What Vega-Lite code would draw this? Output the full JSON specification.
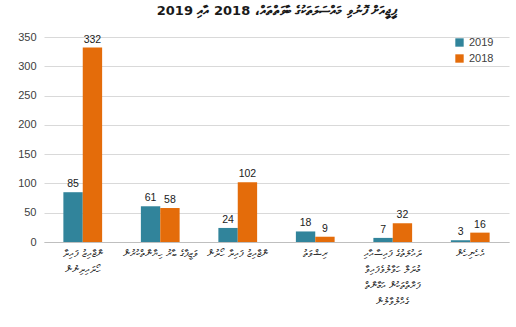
{
  "$schema": "https://vega.github.io/schema/vega-lite/v6.json",
  "width": 465,
  "height": 205,
  "autosize": {"type": "pad"},
  "padding": {"left": 17, "right": 6, "top": 5, "bottom": 4},
  "background": "white",
  "title": {
    "text": "ޕީޖީއަށް ފޮނުވި މައްސަލަތަކުގެ ބާވަތްތައް، 2018 އާއި 2019",
    "fontSize": 13,
    "fontWeight": "bold",
    "font": "DejaVu Sans",
    "color": "#1a1a1a",
    "anchor": "middle",
    "offset": 13
  },
  "data": {
    "values": [
      {"cat": "ނާޖާއިޒު ފައިދާ|ހޯދައިދިނުން", "year": "2019", "value": 85},
      {"cat": "ނާޖާއިޒު ފައިދާ|ހޯދައިދިނުން", "year": "2018", "value": 332},
      {"cat": "ވަޒީފާގެ ބާރު ހިޔާނާތްކުރުން", "year": "2019", "value": 61},
      {"cat": "ވަޒީފާގެ ބާރު ހިޔާނާތްކުރުން", "year": "2018", "value": 58},
      {"cat": "ނާޖާއިޒު ފައިދާ ހޯދުން", "year": "2019", "value": 24},
      {"cat": "ނާޖާއިޒު ފައިދާ ހޯދުން", "year": "2018", "value": 102},
      {"cat": "ރިޝްވަތު", "year": "2019", "value": 18},
      {"cat": "ރިޝްވަތު", "year": "2018", "value": 9},
      {"cat": "ދައުލަތުގެ ފައިސާއާއި|މުދަލާ ހަވާލުވެފައިވާ|ފަރާތްތަކުން އަމާނާތް|ގެއްލުވާލުން", "year": "2019", "value": 7},
      {"cat": "ދައުލަތުގެ ފައިސާއާއި|މުދަލާ ހަވާލުވެފައިވާ|ފަރާތްތަކުން އަމާނާތް|ގެއްލުވާލުން", "year": "2018", "value": 32},
      {"cat": "އެހެނިހެން", "year": "2019", "value": 3},
      {"cat": "އެހެނިހެން", "year": "2018", "value": 16}
    ]
  },
  "encoding": {
    "x": {
      "field": "cat",
      "type": "nominal",
      "sort": [
        "ނާޖާއިޒު ފައިދާ|ހޯދައިދިނުން",
        "ވަޒީފާގެ ބާރު ހިޔާނާތްކުރުން",
        "ނާޖާއިޒު ފައިދާ ހޯދުން",
        "ރިޝްވަތު",
        "ދައުލަތުގެ ފައިސާއާއި|މުދަލާ ހަވާލުވެފައިވާ|ފަރާތްތަކުން އަމާނާތް|ގެއްލުވާލުން",
        "އެހެނިހެން"
      ],
      "scale": {"paddingInner": 0.5, "paddingOuter": 0.25},
      "axis": {
        "title": null,
        "labelAngle": 0,
        "labelExpr": "split(datum.label, '|')",
        "labelFontSize": 10,
        "labelFont": "DejaVu Sans",
        "labelColor": "#333",
        "labelLimit": 0,
        "labelPadding": 6,
        "ticks": false,
        "domainColor": "#bfbfbf",
        "labelLineHeight": 16
      }
    },
    "xOffset": {"field": "year", "type": "nominal", "sort": ["2019", "2018"]},
    "y": {
      "field": "value",
      "type": "quantitative",
      "scale": {"domain": [0, 350]},
      "axis": {
        "title": null,
        "values": [0, 50, 100, 150, 200, 250, 300, 350],
        "domain": false,
        "ticks": false,
        "gridColor": "#d9d9d9",
        "labelFontSize": 11,
        "labelFont": "Liberation Sans",
        "labelColor": "#404040",
        "labelPadding": 8
      }
    }
  },
  "layer": [
    {
      "mark": {"type": "bar"},
      "encoding": {
        "color": {
          "field": "year",
          "type": "nominal",
          "sort": ["2019", "2018"],
          "scale": {"domain": ["2019", "2018"], "range": ["#31849B", "#E46C0A"]},
          "legend": {
            "title": null,
            "orient": "none",
            "legendX": 410,
            "legendY": 0,
            "symbolType": "square",
            "symbolSize": 70,
            "labelFontSize": 11,
            "labelFont": "Liberation Sans",
            "labelColor": "#404040",
            "rowPadding": 4
          }
        }
      }
    },
    {
      "mark": {"type": "text", "dy": -8, "fontSize": 10.5, "font": "Liberation Sans", "color": "#1a1a1a"},
      "encoding": {
        "text": {"field": "value", "type": "quantitative"}
      }
    }
  ],
  "config": {
    "view": {"stroke": null}
  }
}
